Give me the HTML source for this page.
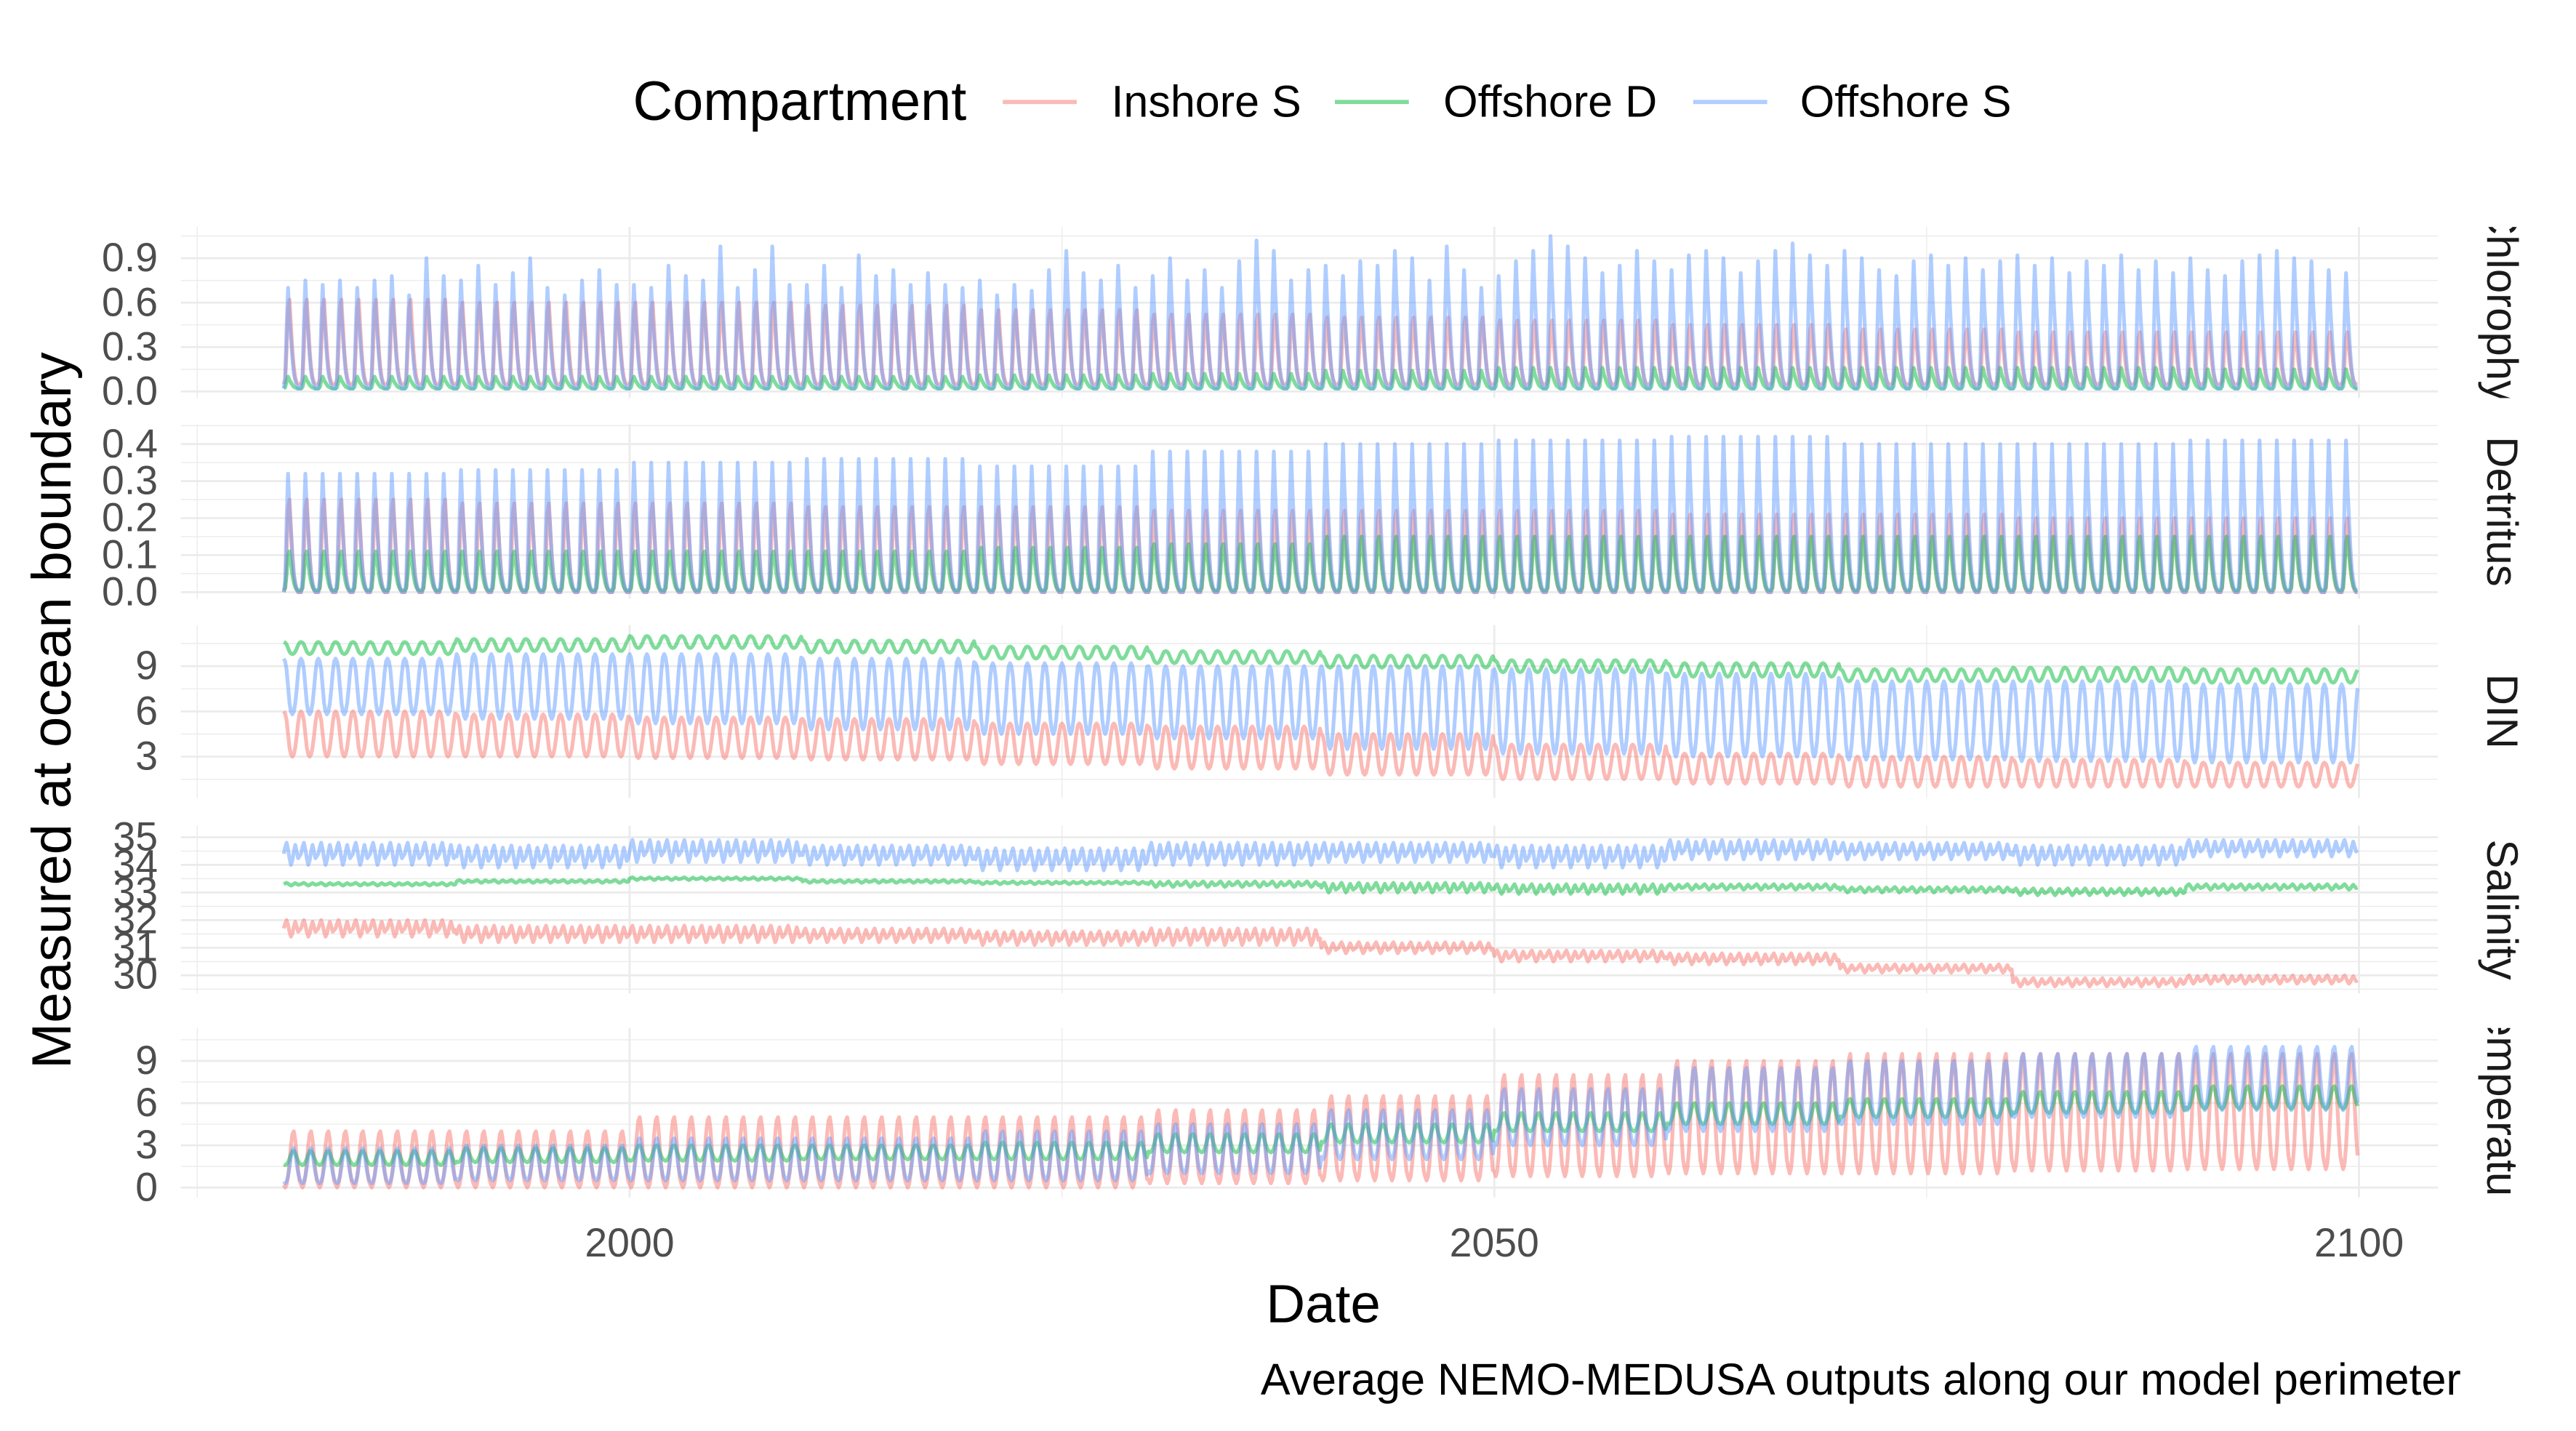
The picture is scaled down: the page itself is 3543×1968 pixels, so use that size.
<!DOCTYPE html>
<html><head><meta charset="utf-8"><style>
html,body{margin:0;padding:0;background:#fff;}
svg{display:block;font-family:"Liberation Sans",Arial,sans-serif;}
</style></head><body>
<svg id="chart" width="3543" height="1968" viewBox="0 0 1567 870" preserveAspectRatio="none" xmlns="http://www.w3.org/2000/svg">
<g id="legend">
<text x="385" y="73" font-size="33.5" fill="#000">Compartment</text>
<line x1="610" y1="62" x2="655" y2="62" stroke="#F8766D" stroke-opacity="0.5" stroke-width="2.5"/>
<text x="676" y="71" font-size="27" fill="#000">Inshore S</text>
<line x1="812" y1="62" x2="857" y2="62" stroke="#00BA38" stroke-opacity="0.5" stroke-width="2.5"/>
<text x="878" y="71" font-size="27" fill="#000">Offshore D</text>
<line x1="1030" y1="62" x2="1075" y2="62" stroke="#619CFF" stroke-opacity="0.5" stroke-width="2.5"/>
<text x="1095" y="71" font-size="27" fill="#000">Offshore S</text>
</g>
<text transform="translate(43,432) rotate(-90)" text-anchor="middle" font-size="33.5" fill="#000">Measured at ocean boundary</text>
<text x="805" y="804" text-anchor="middle" font-size="33" fill="#000">Date</text>
<text x="1497" y="848" text-anchor="end" font-size="27" fill="#000">Average NEMO-MEDUSA outputs along our model perimeter</text>
<g id="panels"></g>
</svg>
<script>
// ---- data ----
const startYear = 1980;
const xTicks = [2000, 2050, 2100];
const xMinor = [1975, 2025, 2075];
const series = ["Inshore S", "Offshore D", "Offshore S"];
const chlBluePeaks = [
.70,.75,.72,.75,.70,.75,.78,.65,.90,.78,
.75,.85,.72,.80,.90,.70,.65,.75,.82,.72,
.72,.70,.85,.78,.75,.98,.70,.82,.98,.72,
.72,.85,.70,.92,.78,.82,.72,.80,.72,.70,
.75,.65,.72,.68,.82,.95,.80,.75,.85,.70,
.78,.90,.75,.82,.70,.88,1.02,.95,.75,.82,
.85,.78,.88,.85,.95,.90,.75,.98,.82,.70,
.78,.88,.95,1.05,.98,.90,.80,.85,.95,.88,
.82,.92,.95,.90,.80,.88,.95,1.0,.92,.85,
.95,.90,.82,.78,.88,.92,.85,.90,.82,.88,
.92,.85,.90,.80,.88,.85,.92,.82,.88,.80,
.90,.82,.78,.88,.92,.95,.90,.88,.82,.80];
const chlPinkPeak = [.62,.60,.60,.58,.55,.52,.50,.48,.45,.42,.40,.40];
const chlPinkTrough = [.05,.05,.05,.05,.05,.05,.05,.05,.05,.05,.05,.05];
const chlGreenPeak = [.10,.10,.10,.10,.11,.12,.14,.16,.16,.16,.16,.15];
const chlGreenTrough = [.02,.02,.02,.02,.02,.02,.02,.02,.02,.02,.02,.02];
const chlBlueTrough = [.02,.02,.02,.02,.02,.02,.02,.02,.02,.02,.02,.02];
const detPinkPeak = [.25,.24,.24,.23,.23,.22,.22,.22,.21,.21,.20,.20];
const detPinkTrough = [0,0,0,0,0,0,0,0,0,0,0,0];
const detGreenPeak = [.11,.11,.11,.11,.12,.13,.15,.15,.15,.15,.15,.15];
const detGreenTrough = [.005,.005,.005,.005,.005,.005,.005,.005,.005,.005,.005,.005];
const detBluePeak = [.32,.33,.35,.36,.34,.38,.40,.41,.42,.40,.40,.41];
const detBlueTrough = [0,0,0,0,0,0,0,0,0,0,0,0];
const dinGreenPeak = [10.6,10.8,11,10.7,10.3,10.0,9.7,9.4,9.2,8.8,8.9,8.8];
const dinGreenTrough = [9.8,10.0,10.2,9.9,9.5,9.2,8.9,8.6,8.3,8.0,8.0,7.9];
const dinBluePeak = [9.5,9.8,9.8,9.5,9.2,9.0,9.0,8.8,8.5,8.0,8.0,7.8];
const dinBlueTrough = [5.8,5.5,5.2,4.8,4.5,4.2,3.5,3.2,3.0,2.8,2.7,2.6];
const dinPinkPeak = [6.0,5.8,5.6,5.5,5.2,5.0,4.5,3.8,3.2,3.0,2.8,2.6];
const dinPinkTrough = [3.0,3.0,2.9,2.8,2.5,2.2,1.8,1.5,1.2,1.0,1.0,1.0];
const salBluePeak = [34.8,34.7,34.9,34.7,34.6,34.8,34.8,34.7,34.9,34.8,34.7,34.9];
const salBlueTrough = [34.0,33.9,34.1,34.0,33.8,34.0,34.1,33.9,34.2,34.2,34.0,34.3];
const salGreenPeak = [33.35,33.45,33.55,33.45,33.4,33.4,33.35,33.3,33.3,33.2,33.15,33.3];
const salGreenTrough = [33.25,33.35,33.45,33.35,33.3,33.2,33.0,32.95,33.1,33.0,32.9,33.1];
const salPinkPeak = [32.0,31.8,31.8,31.7,31.6,31.7,31.2,30.9,30.8,30.4,29.9,30.0];
const salPinkTrough = [31.4,31.2,31.2,31.2,31.1,31.1,30.8,30.5,30.4,30.1,29.6,29.7];
const tmpPinkPeak = [4,4,5,5,5,5.5,6.5,8,9,9.5,9.5,9.5];
const tmpPinkTrough = [0,0,0,0,0,0.3,0.5,0.8,1,1,1.2,1.3];
const tmpBluePeak = [2.8,3,3.5,3.5,4,4.5,5.5,7,8.5,9,9.5,10];
const tmpBlueTrough = [.3,.5,.5,.5,.5,1,2,3,4,4.5,5,5.5];
const tmpGreenPeak = [2.6,2.8,3,3,3.2,3.8,4.5,5.3,6,6.3,6.8,7.2];
const tmpGreenTrough = [1.6,1.8,1.9,2,2,2.5,3.2,4,4.5,5,5.3,5.6];
const shapeSpike = [0,0.1,0.6,1,0.7,0.5,0.3,0.15,0.08,0.03,0,0];
const shapeBloom = [0,0.05,0.4,0.9,1,0.7,0.4,0.2,0.08,0.02,0,0];
const shapeWinter = [1,0.95,0.8,0.5,0.2,0.05,0,0.05,0.2,0.45,0.75,0.95];
const shapeSummer = [0.05,0,0.05,0.2,0.45,0.75,0.95,1,0.85,0.55,0.3,0.12];
const shapeSal = [0.5,0.8,1,0.7,0.3,0,0.2,0.6,0.9,0.6,0.3,0.4];

// ---- layout ----
const X0 = 110, X1 = 1483;
const xs = yr => 383 + (yr - 2000) * (1435 - 383) / 100;
const colors = ["#F8766D", "#00BA38", "#619CFF"];
const panels = [
 {name:"chlorophyll", label:"Chlorophyll", top:138, bot:242, v0:0, p0:238, v1:0.9, p1:157, ticks:[0,0.3,0.6,0.9], fmt:v=>v.toFixed(1), minor:[0.15,0.45,0.75,1.05],
  s:[[null,chlPinkPeak,chlPinkTrough,shapeBloom],[null,chlGreenPeak,chlGreenTrough,shapeSpike],[chlBluePeaks,null,chlBlueTrough,shapeSpike]]},
 {name:"detritus", label:"Detritus", top:258, bot:364, v0:0, p0:360, v1:0.4, p1:270, ticks:[0,0.1,0.2,0.3,0.4], fmt:v=>v.toFixed(1), minor:[0.05,0.15,0.25,0.35,0.45],
  s:[[null,detPinkPeak,detPinkTrough,shapeBloom],[null,detGreenPeak,detGreenTrough,shapeBloom],[null,detBluePeak,detBlueTrough,shapeSpike]]},
 {name:"din", label:"DIN", top:380, bot:485, v0:3, p0:460, v1:9, p1:405, ticks:[3,6,9], fmt:v=>String(v), minor:[1.5,4.5,7.5,10.5],
  s:[[null,dinPinkPeak,dinPinkTrough,shapeWinter],[null,dinGreenPeak,dinGreenTrough,shapeWinter],[null,dinBluePeak,dinBlueTrough,shapeWinter]]},
 {name:"salinity", label:"Salinity", top:502, bot:604, v0:30, p0:593, v1:35, p1:509, ticks:[30,31,32,33,34,35], fmt:v=>String(v), minor:[29.5,30.5,31.5,32.5,33.5,34.5,35.5],
  s:[[null,salPinkPeak,salPinkTrough,shapeSal],[null,salGreenPeak,salGreenTrough,shapeSal],[null,salBluePeak,salBlueTrough,shapeSal]]},
 {name:"temperature", label:"Temperature", top:625, bot:728, v0:0, p0:722, v1:9, p1:645, ticks:[0,3,6,9], fmt:v=>String(v), minor:[1.5,4.5,7.5,10.5],
  s:[[null,tmpPinkPeak,tmpPinkTrough,shapeSummer],[null,tmpGreenPeak,tmpGreenTrough,shapeSummer],[null,tmpBluePeak,tmpBlueTrough,shapeSummer]]}
];
const NS = "http://www.w3.org/2000/svg";
const root = document.getElementById('panels');
function mk(tag, attrs, parent){const e=document.createElementNS(NS,tag);for(const k in attrs)e.setAttribute(k,attrs[k]);parent.appendChild(e);return e;}
const defs = mk('defs',{},root);
panels.forEach((p,pi)=>{
  const ys = v => p.p0 + (v - p.v0) * (p.p1 - p.p0) / (p.v1 - p.v0);
  const g = mk('g',{},root);
  
  
  p.minor.forEach(v=>{const y=ys(v); if(y>=p.top-1&&y<=p.bot){const l=mk('line',{x1:X0,x2:X1,y1:y,y2:y,stroke:'#ebebeb','stroke-width':0.6},g);
    
    }});
  xMinor.forEach(yr=>{const l=mk('line',{x1:xs(yr),x2:xs(yr),y1:p.top,y2:p.bot,stroke:'#ebebeb','stroke-width':0.6},g);
    
    });
  p.ticks.forEach(v=>{const y=ys(v);const l=mk('line',{x1:X0,x2:X1,y1:y,y2:y,stroke:'#ebebeb','stroke-width':1.2},g);
    
    
    const t=mk('text',{x:96,y:y+8,'text-anchor':'end','font-size':24.5,fill:'#4d4d4d'},g);t.textContent=p.fmt(v);
    
    });
  xTicks.forEach(yr=>{const l=mk('line',{x1:xs(yr),x2:xs(yr),y1:p.top,y2:p.bot,stroke:'#ebebeb','stroke-width':1.2},g);
    
    });
  p.s.forEach((sd,si)=>{
    const [yearly, peak, trough, shape] = sd;
    let d='';
    for(let y=0;y<120;y++){const dec=Math.floor(y/10);
      const pk = yearly ? yearly[y] : peak[dec]; const tr = trough[dec];
      for(let m=0;m<12;m++){const v=tr+(pk-tr)*shape[m];
        d += (d?'L':'M') + xs(startYear+y+m/12).toFixed(2)+','+ys(v).toFixed(2);}}
    const path=mk('path',{d:d,fill:'none',stroke:colors[si],'stroke-opacity':0.5,'stroke-width':2.3,'stroke-linejoin':'round'},g);
    
    
  });
  const cp=mk('clipPath',{id:'clip'+pi},defs);
  mk('rect',{x:1490,y:p.top,width:70,height:p.bot-p.top},cp);
  const cg=mk('g',{'clip-path':`url(#clip${pi})`},g);
  const st=mk('text',{transform:`translate(1513,${(p.top+p.bot)/2}) rotate(90)`,'text-anchor':'middle','font-size':26.5,fill:'#1a1a1a'},cg);
  st.textContent=p.label;
  
  
});
xTicks.forEach(yr=>{const t=mk('text',{x:xs(yr),y:764,'text-anchor':'middle','font-size':24.5,fill:'#4d4d4d'},root);t.textContent=String(yr);
  
  });
</script>
</body></html>
